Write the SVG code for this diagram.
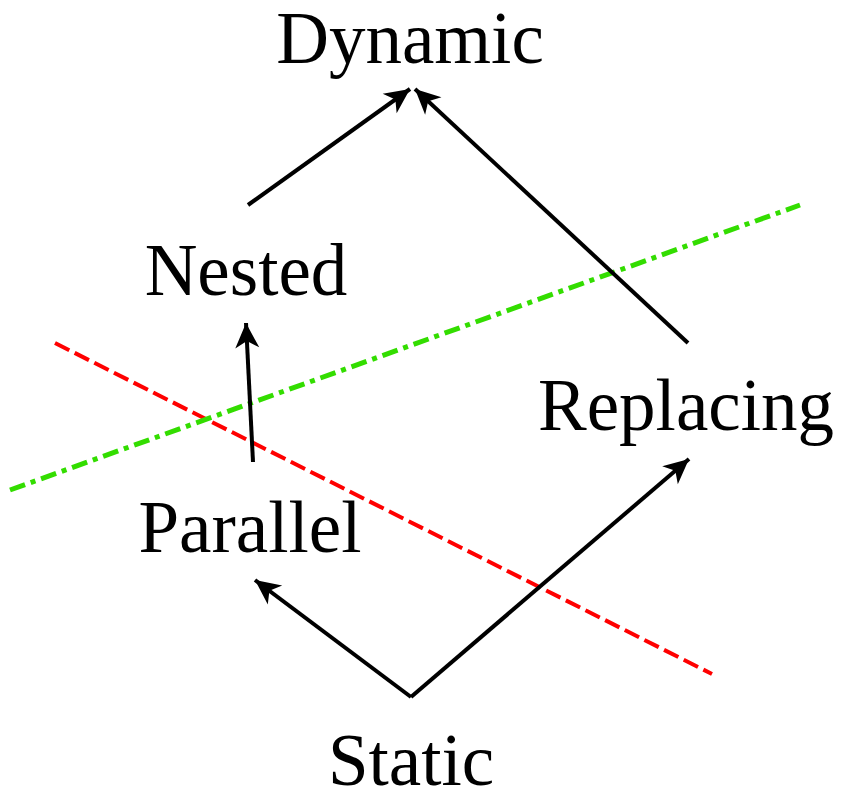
<svg xmlns="http://www.w3.org/2000/svg" width="841" height="791" viewBox="0 0 841 791">
<style>
text{font-family:"Liberation Serif","Times New Roman",serif;font-size:73px;fill:#000;text-anchor:middle}
.c{stroke:#000;stroke-width:4;fill:none}
</style>
<defs>
<marker id="ah" markerUnits="userSpaceOnUse" markerWidth="40" markerHeight="40" viewBox="-30 -20 40 40" refX="0" refY="0" orient="auto">
<path d="M0,0 L-25,-12 L-18,0 L-25,12 Z" fill="#000"/>
</marker>
</defs>
<rect width="841" height="791" fill="#fff"/>
<g id="cuts">
<line x1="55" y1="343" x2="712" y2="674" stroke="#ff0000" stroke-width="4" stroke-dasharray="16 6"/>
<line x1="10" y1="490" x2="800" y2="205" stroke="#33dd00" stroke-width="5" stroke-dasharray="16 6 5 6"/>
</g>
<g id="connectors">
<line class="c" x1="248" y1="205" x2="410" y2="89" marker-end="url(#ah)"/>
<line class="c" x1="688" y1="343" x2="415" y2="89" marker-end="url(#ah)"/>
<line class="c" x1="253" y1="462" x2="246" y2="323" marker-end="url(#ah)"/>
<line class="c" x1="411" y1="697" x2="255" y2="580" marker-end="url(#ah)"/>
<line class="c" x1="411" y1="697" x2="689" y2="459" marker-end="url(#ah)"/>
</g>
<g id="node-dynamic"><text x="410" y="63">Dynamic</text></g>
<g id="node-nested"><text x="246" y="295">Nested</text></g>
<g id="node-replacing"><text x="686" y="430">Replacing</text></g>
<g id="node-parallel"><text x="250" y="552">Parallel</text></g>
<g id="node-static"><text x="411" y="785">Static</text></g>
</svg>
